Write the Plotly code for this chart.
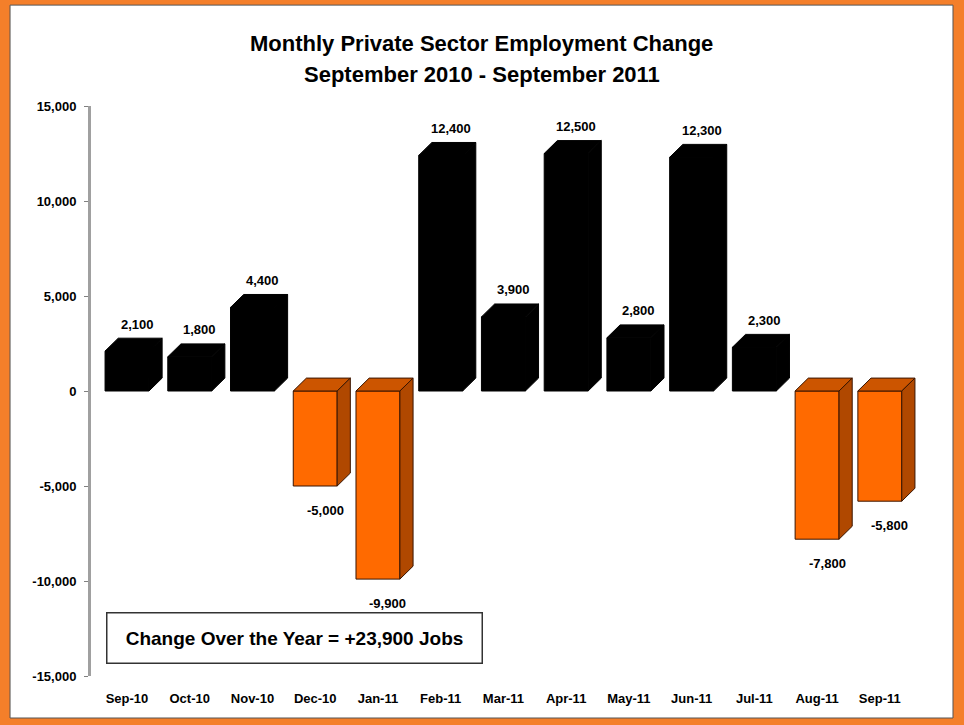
import plotly.graph_objects as go

# ---- data ----
months = ["Sep-10", "Oct-10", "Nov-10", "Dec-10", "Jan-11", "Feb-11", "Mar-11",
          "Apr-11", "May-11", "Jun-11", "Jul-11", "Aug-11", "Sep-11"]
changes = [2100, 1800, 4400, -5000, -9900, 12400, 3900, 12500, 2800, 12300, 2300, -7800, -5800]
y_ticks = [-15000, -10000, -5000, 0, 5000, 10000, 15000]
y_tick_labels = ["-15,000", "-10,000", "-5,000", "0", "5,000", "10,000", "15,000"]
title_lines = ["Monthly Private Sector Employment Change", "September 2010 - September 2011"]
note_text = "Change Over the Year = +23,900 Jobs"

# ---- style ----
FONT = "Liberation Sans, Arial, sans-serif"
ORANGE_BG = "#F47F2A"
POS_COLOR = "#000000"
NEG_FRONT = "#FF6A00"
NEG_SIDE = "#B04800"
NEG_TOP = "#CC5500"
EDGE = "#3a1500"
BAR_W = 0.70
DX = 0.21     # 3D depth in category units
DY = 680      # 3D depth in value units

xs = list(range(len(months)))
fig = go.Figure()

# front faces
fig.add_trace(go.Bar(
    x=xs, y=changes, width=BAR_W,
    marker=dict(color=[POS_COLOR if v >= 0 else NEG_FRONT for v in changes],
                line=dict(color=[POS_COLOR if v >= 0 else EDGE for v in changes], width=1)),
    hoverinfo="skip", showlegend=False,
))

# top and side faces (3D look)
for i, v in zip(xs, changes):
    x0 = i - BAR_W / 2
    x1 = i + BAR_W / 2
    ytop = max(v, 0)
    ybot = min(v, 0)
    pos = v >= 0
    top_col = POS_COLOR if pos else NEG_TOP
    side_col = POS_COLOR if pos else NEG_SIDE
    edge = POS_COLOR if pos else EDGE
    fig.add_trace(go.Scatter(
        x=[x0, x0 + DX, x1 + DX, x1, x0],
        y=[ytop, ytop + DY, ytop + DY, ytop, ytop],
        mode="lines", fill="toself", fillcolor=top_col,
        line=dict(color=edge, width=1), hoverinfo="skip", showlegend=False))
    fig.add_trace(go.Scatter(
        x=[x1, x1 + DX, x1 + DX, x1, x1],
        y=[ytop, ytop + DY, ybot + DY, ybot, ytop],
        mode="lines", fill="toself", fillcolor=side_col,
        line=dict(color=edge, width=1), hoverinfo="skip", showlegend=False))

# data labels
for i, v in zip(xs, changes):
    fig.add_annotation(
        x=i + 0.16, y=v, xref="x", yref="y",
        text="<b>{:,}</b>".format(v),
        showarrow=False, yanchor="middle",
        yshift=27 if v >= 0 else -24,
        font=dict(family=FONT, size=13, color="black"))

# title lines
fig.add_annotation(x=0.466, y=1.1105, xref="paper", yref="paper",
                   text="<b>" + title_lines[0] + "</b>", showarrow=False,
                   yanchor="middle", font=dict(family=FONT, size=22, color="black"))
fig.add_annotation(x=0.466, y=1.0544, xref="paper", yref="paper",
                   text="<b>" + title_lines[1] + "</b>", showarrow=False,
                   yanchor="middle", font=dict(family=FONT, size=22, color="black"))

# note box
fig.add_annotation(x=0.2431, y=0.0675, xref="paper", yref="paper",
                   text="<b>" + note_text + "</b>", showarrow=False,
                   xanchor="center", yanchor="middle",
                   width=372, height=47, borderpad=1,
                   bordercolor="#333333", borderwidth=1.5, bgcolor="white",
                   font=dict(family=FONT, size=19, color="black"))

# white panel on orange frame
fig.add_shape(type="rect", xref="paper", yref="paper",
              x0=-0.0965, x1=1.0274, y0=-0.0737, y1=1.177,
              fillcolor="white", line=dict(color="#555555", width=1), layer="below")

fig.update_layout(
    width=964, height=725,
    margin=dict(l=91, r=34, t=106, b=49),
    paper_bgcolor=ORANGE_BG, plot_bgcolor="rgba(0,0,0,0)",
    xaxis=dict(range=[-0.574, 12.8], tickvals=xs,
               ticktext=["<b>" + m + "</b>" for m in months],
               showline=False, showgrid=False, zeroline=False,
               ticks="outside", ticklen=10, tickcolor="rgba(0,0,0,0)",
               tickfont=dict(family=FONT, size=13, color="black")),
    yaxis=dict(range=[-15000, 15000], tickvals=y_ticks,
               ticktext=["<b>" + t + "</b>" for t in y_tick_labels],
               showline=True, linecolor="#A0A0A0", linewidth=3,
               showgrid=False, zeroline=False,
               ticks="outside", ticklen=4, tickcolor="#808080", tickwidth=1,
               ticklabelstandoff=5,
               tickfont=dict(family=FONT, size=13, color="black")),
)

fig.write_html("out.html", config={"displayModeBar": False},
               post_script="document.body.style.margin='0';document.body.style.overflow='hidden';")
